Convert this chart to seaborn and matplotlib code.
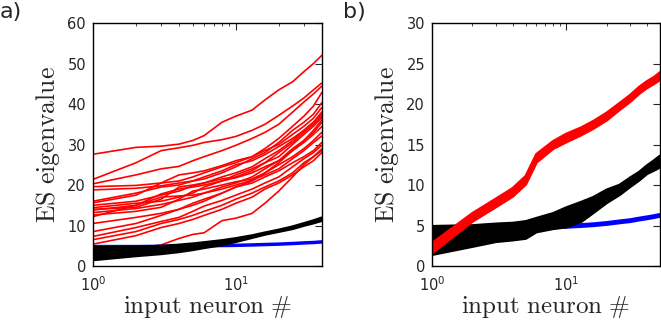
import numpy as np
import pandas as pd
import matplotlib
matplotlib.use("Agg")
import matplotlib.pyplot as plt
import seaborn as sns

# ---- panel a data ----
neuron_a = [1, 2, 3, 4, 5, 6, 8, 10, 13, 16, 20, 25, 30, 35, 40]

red_a = [
    [27.6, 29.3, 29.6, 30.1, 31.0, 32.2, 35.5, 37.0, 38.5, 41.0, 43.5, 45.5, 48.0, 50.0, 52.0],
    [21.4, 25.5, 28.5, 29.2, 29.8, 30.5, 31.2, 32.0, 33.5, 35.0, 37.2, 39.5, 41.5, 43.5, 45.2],
    [20.3, 22.5, 24.0, 24.6, 26.0, 27.0, 28.5, 29.8, 31.5, 33.0, 35.0, 38.0, 40.5, 42.5, 44.4],
    [19.6, 19.9, 20.5, 21.0, 22.0, 23.0, 24.5, 25.5, 27.0, 29.0, 31.5, 34.5, 37.0, 39.5, 42.8],
    [18.8, 19.2, 19.8, 20.5, 21.0, 21.5, 23.0, 24.5, 26.5, 28.0, 30.5, 33.5, 35.5, 37.5, 40.3],
    [15.6, 17.5, 20.5, 22.5, 23.0, 23.5, 24.8, 26.0, 27.0, 28.5, 30.0, 32.5, 34.5, 36.5, 39.1],
    [15.0, 16.0, 17.5, 18.5, 19.8, 20.5, 22.0, 23.0, 24.5, 26.5, 28.5, 31.0, 33.5, 35.5, 37.5],
    [14.4, 15.5, 16.0, 17.0, 18.0, 19.5, 21.0, 22.5, 24.0, 25.5, 27.0, 30.0, 32.5, 34.5, 36.6],
    [13.8, 15.0, 17.8, 19.0, 19.5, 20.0, 21.0, 21.8, 23.0, 24.5, 26.0, 29.0, 31.0, 33.0, 35.4],
    [13.2, 14.2, 15.2, 16.2, 17.0, 18.0, 19.5, 20.5, 22.0, 24.0, 26.0, 28.5, 30.5, 32.5, 34.4],
    [12.6, 13.5, 14.5, 16.5, 18.5, 19.0, 20.0, 20.8, 21.5, 23.0, 25.0, 27.0, 29.0, 31.0, 33.0],
    [12.2, 15.0, 17.0, 17.3, 17.5, 18.0, 19.0, 20.0, 21.2, 22.5, 24.0, 26.5, 28.5, 30.5, 32.1],
    [8.5, 10.5, 12.5, 14.0, 15.5, 16.5, 18.0, 19.5, 20.5, 22.0, 23.5, 25.5, 27.0, 28.5, 30.5],
    [7.3, 9.5, 11.0, 12.0, 13.5, 14.8, 16.2, 17.5, 19.0, 20.5, 22.0, 24.5, 26.5, 28.0, 29.8],
    [6.5, 8.5, 10.5, 11.5, 12.5, 13.5, 15.0, 16.5, 18.0, 19.5, 21.0, 23.0, 25.5, 27.0, 28.9],
    [5.4, 7.5, 9.5, 10.5, 11.5, 12.5, 14.0, 15.5, 17.0, 19.0, 20.5, 22.5, 24.5, 26.0, 28.0],
    [4.2, 4.4, 5.2, 6.8, 7.8, 8.2, 11.2, 11.8, 13.0, 15.5, 18.5, 22.0, 25.0, 27.0, 28.5],
    [14.0, 14.5, 16.5, 19.5, 20.0, 20.5, 21.5, 22.0, 23.5, 25.5, 28.0, 30.5, 33.0, 35.0, 37.0],
    [10.5, 12.0, 13.0, 14.0, 15.0, 16.0, 18.0, 19.5, 21.0, 23.0, 25.5, 28.5, 31.0, 33.5, 36.0],
    [16.0, 18.0, 19.5, 20.0, 21.0, 22.0, 23.5, 25.0, 26.0, 27.5, 29.5, 31.5, 33.5, 35.5, 38.0],
]
black_a_low = [1.5, 2.5, 3.0, 3.5, 4.0, 4.5, 5.2, 6.0, 7.0, 7.8, 8.5, 9.2, 10.0, 10.6, 11.2]
black_a_high = [4.6, 4.7, 4.9, 5.2, 5.5, 5.8, 6.3, 6.8, 7.5, 8.2, 8.9, 9.7, 10.5, 11.2, 11.9]
blue_a = [4.8, 4.8, 4.85, 4.9, 4.95, 5.0, 5.05, 5.1, 5.2, 5.3, 5.4, 5.55, 5.7, 5.8, 5.95]

# ---- panel b data ----
neuron_b = [1, 2, 3, 4, 5, 6, 8, 10, 13, 16, 20, 25, 30, 35, 40, 45, 50]
red_b_low = [1.6, 5.5, 7.3, 8.6, 10.1, 12.8, 14.5, 15.3, 16.2, 17.0, 18.0, 19.3, 20.3, 21.3, 22.0, 22.5, 23.0]
red_b_high = [2.8, 6.5, 8.3, 9.6, 11.1, 13.8, 15.4, 16.3, 17.1, 17.9, 18.9, 20.1, 21.1, 22.1, 22.8, 23.3, 23.9]
black_b_low = [1.4, 2.4, 3.0, 3.2, 3.4, 4.2, 4.6, 4.8, 5.5, 6.6, 7.8, 8.8, 9.8, 10.6, 11.4, 11.8, 12.2]
black_b_high = [4.9, 5.0, 5.2, 5.3, 5.5, 5.9, 6.5, 7.2, 7.9, 8.5, 9.4, 10.0, 10.9, 11.6, 12.4, 13.0, 13.6]
blue_b = [4.6, 4.65, 4.7, 4.72, 4.75, 4.78, 4.85, 4.9, 5.0, 5.1, 5.25, 5.45, 5.6, 5.8, 5.95, 6.1, 6.25]

sns.set_style("white")
plt.rcParams.update({
    "font.family": ["DejaVu Sans"],
    "xtick.direction": "in", "ytick.direction": "in",
    "xtick.top": True, "ytick.right": True,
    "xtick.major.size": 5, "ytick.major.size": 5,
    "xtick.minor.size": 2.5, "xtick.major.width": 0.8,
    "axes.edgecolor": "black", "axes.linewidth": 1.0,
    "xtick.labelsize": 10.5, "ytick.labelsize": 10.5,
})

fig = plt.figure(figsize=(6.61, 3.23), dpi=100)
ax_a = fig.add_axes([0.1407, 0.1765, 0.346, 0.752])
ax_b = fig.add_axes([0.6536, 0.1765, 0.345, 0.752])

# panel a
red_df = pd.DataFrame([
    {"neuron": n, "eig": v, "run": i}
    for i, row in enumerate(red_a) for n, v in zip(neuron_a, row)
])
sns.lineplot(data=red_df, x="neuron", y="eig", units="run", estimator=None,
             color="red", lw=1.2, ax=ax_a)
sns.lineplot(x=neuron_a, y=blue_a, color="blue", lw=2.5, ax=ax_a)
ax_a.fill_between(neuron_a, black_a_low, black_a_high, color="black", lw=0, zorder=2)
sns.lineplot(x=neuron_a, y=black_a_low, color="black", lw=2, ax=ax_a)
sns.lineplot(x=neuron_a, y=black_a_high, color="black", lw=2, ax=ax_a)
ax_a.set_xlim(1, 40)
ax_a.set_ylim(0, 60)
ax_a.set_yticks(np.arange(0, 61, 10))

# panel b
sns.lineplot(x=neuron_b, y=blue_b, color="blue", lw=3.5, ax=ax_b)
ax_b.fill_between(neuron_b, black_b_low, black_b_high, color="black", lw=0, zorder=2)
sns.lineplot(x=neuron_b, y=black_b_low, color="black", lw=2, ax=ax_b)
sns.lineplot(x=neuron_b, y=black_b_high, color="black", lw=2, ax=ax_b)
ax_b.fill_between(neuron_b, red_b_low, red_b_high, color="red", lw=0, zorder=2)
sns.lineplot(x=neuron_b, y=red_b_low, color="red", lw=2, ax=ax_b)
sns.lineplot(x=neuron_b, y=red_b_high, color="red", lw=2, ax=ax_b)
ax_b.set_xlim(1, 50)
ax_b.set_ylim(0, 30)
ax_b.set_yticks(np.arange(0, 31, 5))

for ax in (ax_a, ax_b):
    ax.set_xscale("log")
    ax.tick_params(which="both", direction="in", top=True, right=True)
    ax.tick_params(axis="x", which="major", pad=7)
    ax.tick_params(axis="y", which="major", pad=5)
    ax.set_xlabel(r"$\mathrm{input\ neuron\ \#}$", fontsize=18, math_fontfamily="cm", labelpad=0)
    ax.set_ylabel(r"$\mathrm{ES\ eigenvalue}$", fontsize=18.5, math_fontfamily="cm", labelpad=4)
    for s in ax.spines.values():
        s.set_visible(True)
        s.set_color("black")

fig.text(0.0, 0.995, "a)", fontsize=16, va="top", ha="left")
fig.text(0.519, 0.995, "b)", fontsize=16, va="top", ha="left")

fig.savefig("out.png", dpi=100)
